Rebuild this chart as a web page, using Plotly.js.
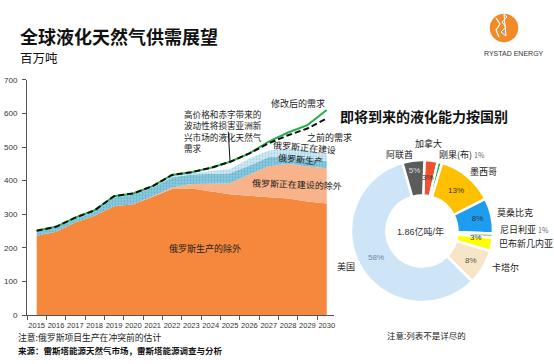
<!DOCTYPE html>
<html><head><meta charset="utf-8">
<script src="https://cdn.plot.ly/plotly-3.0.1.min.js"></script>
<style>body{margin:0;background:#fff}#chart{width:554px;height:364px}</style>
</head><body><div id="chart"></div>
<script>
// ---------------- data ----------------
const years = [2015,2016,2017,2018,2019,2020,2021,2022,2023,2024,2025,2026,2027,2028,2029,2030];
const exRussiaProduction   = [236,248,276,296,324,330,352,375,377,368,360,355,352,347,338,332];
const exRussiaConstruction = [0,0,0,0,0,0,2,5,13,22,32,63,91,103,104,105];
const russiaProduction     = [12,12,10,12,26,28,26,30,28,30,30,27,27,22,23,21];
const russiaConstruction   = [2,2,2,2,2,2,2,4,4,8,13,21,20,24,26,20];
const revisedDemand  = [251,263,290,312,354,362,384,417,425,438,456,481,516,543,565,610];
const previousDemand = [251,263,290,312,354,362,384,417,425,438,456,481,511,535,555,585];
const yTicks = [0,100,200,300,400,500,600,700];

const countries   = ['加拿大','刚果(布)','墨西哥','莫桑比克','尼日利亚','巴布新几内亚','卡塔尔','美国','阿联酋'];
const shares      = [3,1,13,8,1,3,8,58,5];
const shareLabels = ['3%','','13%','8%','','3%','8%','58%','5%'];
const totalCapacity = '1.86亿吨/年';
const noteLines = ['高价格和赤字带来的','波动性将损害亚洲新','兴市场的液化天然气','需求'];

// ---------------- helpers ----------------
const W = 554, H = 364;
const X = p => p / W;
const Y = p => 1 - p / H;
const FONT = 'Liberation Sans, Noto Sans CJK SC, sans-serif';
const CJK = 'Noto Sans CJK SC, sans-serif';

const sliceColors = ['#EF5230','#22B04B','#FFC000','#1E9CF0','#A8CF88','#FFFF00','#F6E6C7','#CDE5F7','#5B5B5B'];
const sliceTextColors = ['#333','#333','#333','#333','#333','#333','#555','#6C87A6','#DDDDDD'];
// small slices whose label Plotly would shrink: drawn as separate text instead
const smallSlice = [true,false,false,false,false,true,false,false,false];
const pieText = shareLabels.map((t,i) => smallSlice[i] ? '' : t);

const traces = [
  {x: years, y: exRussiaProduction, type:'scatter', mode:'lines', stackgroup:'s',
   line:{width:0, color:'#F5883C'}, fillcolor:'#F5883C'},
  {x: years, y: exRussiaConstruction, type:'scatter', mode:'lines', stackgroup:'s',
   line:{width:0, color:'#F9B38A'}, fillcolor:'#F9B38A'},
  {x: years, y: russiaProduction, type:'scatter', mode:'lines', stackgroup:'s',
   line:{width:0, color:'#86C5DC'}, fillcolor:'#86C5DC',
   fillpattern:{shape:'.', bgcolor:'#8FCBE0', fgcolor:'#5FAFCD', size:3, solidity:0.35}},
  {x: years, y: russiaConstruction, type:'scatter', mode:'lines', stackgroup:'s',
   line:{width:0, color:'#CBE6F1'}, fillcolor:'#CBE6F1',
   fillpattern:{shape:'.', bgcolor:'#D3EAF3', fgcolor:'#A2D2E4', size:3, solidity:0.35}},
  {x: years, y: revisedDemand, type:'scatter', mode:'lines',
   line:{width:2, color:'#22B04B'}},
  {x: years, y: previousDemand, type:'scatter', mode:'lines',
   line:{width:2, color:'#111', dash:'6px,3px'}},
  {type:'pie', labels: countries, values: shares, text: pieText,
   textinfo:'text', textposition:'inside', insidetextorientation:'horizontal',
   textfont:{size:8, family:FONT, color: sliceTextColors},
   hole:0.5, sort:false, direction:'clockwise', rotation:2,
   marker:{colors: sliceColors, line:{color:'#fff', width:2.5}},
   domain:{x:[X(351), X(493)], y:[Y(302), Y(160)]}, hoverinfo:'none'}
];

const ann = (text, px, py, opts={}) => Object.assign({
  text, x: X(px), y: Y(py), xref:'paper', yref:'paper', showarrow:false,
  xanchor:'center', yanchor:'middle', font:{family:CJK, size:9, color:'#222'}
}, opts);

const annotations = [
  ann('<b>全球液化天然气供需展望</b>', 18, 36.2, {xanchor:'left', font:{family:CJK, size:18, color:'#111'}}),
  ann('百万吨', 18, 57, {xanchor:'left', font:{family:CJK, size:12.5, color:'#111'}}),
  ann('<b>即将到来的液化能力按国别</b>', 338, 116.5, {xanchor:'left', font:{family:CJK, size:14, color:'#111'}}),
  ann('注意:俄罗斯项目生产在冲突前的估计', 16, 337.5, {xanchor:'left', font:{family:CJK, size:8.8, color:'#222'}}),
  ann('<b>来源：雷斯塔能源天然气市场，雷斯塔能源调查与分析</b>', 16, 350, {xanchor:'left', font:{family:CJK, size:8.5, color:'#111'}}),
  ann('注意:列表不是详尽的', 426, 335, {font:{family:CJK, size:8.5, color:'#222'}}),
  ann('俄罗斯生产的除外', 205, 248),
  ann('俄罗斯正在建设的除外', 297, 184, {textangle:2}),
  ann('俄罗斯正在建设', 304, 147.5, {textangle:5}),
  ann('俄罗斯生产', 300.5, 159, {textangle:5}),
  ann('修改后的需求', 297.5, 103.8),
  ann('之前的需求', 305, 137.5, {xanchor:'left'}),
  ...noteLines.map((t,i) => ann(t, 182.5, 114 + i*11.4,
      {xanchor:'left', borderpad:0, font:{family:CJK, size:8.6, color:'#222'}})),
  ann(totalCapacity, 420.5, 232, {font:{family:FONT, size:9, color:'#333'}}),
  ann(shareLabels[0], 427.5, 177.5, {font:{family:FONT, size:8, color:sliceTextColors[0]}}),
  ann(shareLabels[5], 476, 237.5, {font:{family:FONT, size:8, color:sliceTextColors[5]}}),
  ann('加拿大', 428.5, 144),
  ann('阿联酋', 399.5, 154),
  ann('刚果(布) <span style="font-size:7px;color:#666">1%</span>', 437, 154, {xanchor:'left'}),
  ann('墨西哥', 483.5, 171),
  ann('莫桑比克', 495, 212.5, {xanchor:'left'}),
  ann('尼日利亚 <span style="font-size:7px;color:#666">1%</span>', 498, 229, {xanchor:'left'}),
  ann('巴布新几内亚', 497, 244, {xanchor:'left'}),
  ann('卡塔尔', 490, 267.5, {xanchor:'left'}),
  ann('美国', 335, 266, {xanchor:'left'}),
  ann('RYSTAD ENERGY', 514, 53, {font:{family:'Liberation Sans Narrow, Liberation Sans, sans-serif', size:7, color:'#333'}})
];

const shapes = [
  // arrow line from note to 2025 point
  {type:'line', xref:'x', yref:'y', x0:2025, y0:456, x1:2024.91, y1:545, line:{color:'#111', width:1}},
  // logo globe
  {type:'circle', xref:'paper', yref:'paper', x0:X(490), x1:X(518), y0:Y(42), y1:Y(14),
   fillcolor:'#F28B27', line:{color:'#E77A1A', width:0.5}},
  {type:'path', xref:'paper', yref:'paper',
   path:`M ${X(504)} ${Y(14)} A ${X(14)} ${14/H} 0 0 1 ${X(504)} ${Y(42)} L ${X(506)} ${Y(36)} L ${X(501)} ${Y(32)} L ${X(506)} ${Y(27)} L ${X(502)} ${Y(22)} L ${X(507)} ${Y(17)} Z`,
   fillcolor:'#A3A3A3', line:{color:'#fff', width:1}},
  {type:'path', xref:'paper', yref:'paper',
   path:`M ${X(496)} ${Y(18)} L ${X(500)} ${Y(24)} L ${X(496)} ${Y(30)} L ${X(499)} ${Y(37)}`,
   line:{color:'#fff', width:1.2}}
];

const layout = {
  width: W, height: H,
  margin:{l:0, r:0, t:0, b:0},
  paper_bgcolor:'#fff', plot_bgcolor:'#fff',
  showlegend:false,
  font:{family:FONT, color:'#333'},
  xaxis:{domain:[X(27), X(333.5)], range:[2014.5, 2030.35], tickmode:'array', tickvals: years,
         ticktext: years.map(String), ticks:'', showgrid:false, zeroline:false, tickangle:0,
         showline:true, linecolor:'#555', linewidth:1,
         tickfont:{family:FONT, size:7.5, color:'#333'}, ticklabelstandoff:3,
         minor:{tick0:2014.5, dtick:1, ticks:'outside', ticklen:4, tickcolor:'#555', showgrid:false}},
  yaxis:{domain:[Y(315.3), Y(79.7)], range:[0,700], tickmode:'array', tickvals: yTicks,
         ticks:'outside', ticklen:4, tickcolor:'#555', showgrid:false, zeroline:false,
         showline:true, linecolor:'#555', linewidth:1,
         tickfont:{family:FONT, size:8, color:'#333'}, ticklabelstandoff:3},
  annotations, shapes
};

Plotly.newPlot('chart', traces, layout, {staticPlot:true, displayModeBar:false});
</script></body></html>
